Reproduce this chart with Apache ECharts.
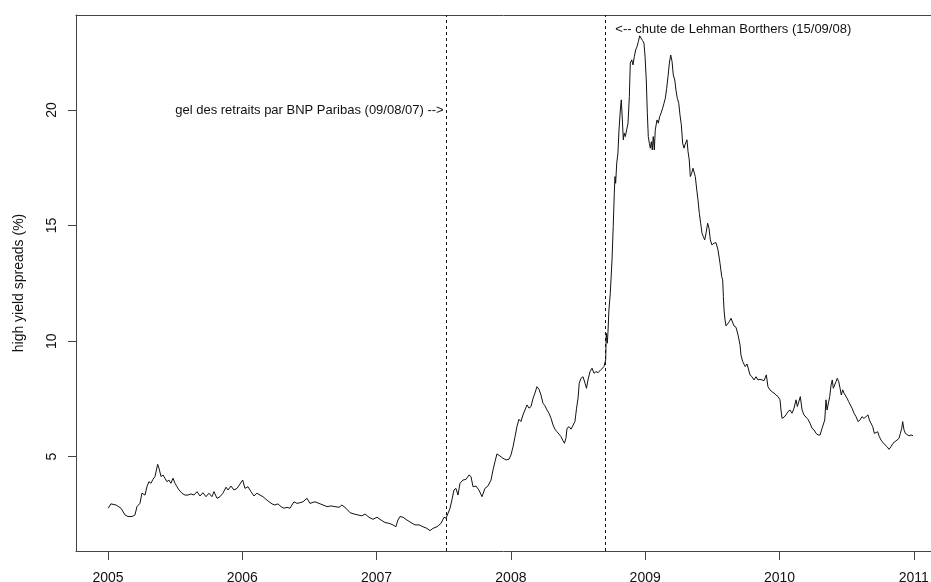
<!DOCTYPE html>
<html>
<head>
<meta charset="utf-8">
<script src="https://cdn.jsdelivr.net/npm/echarts@6/dist/echarts.min.js"></script>
<style>
html,body{margin:0;padding:0;background:#fff;}
#c{width:931px;height:582px;}
</style>
</head>
<body>
<div id="c"></div>
<script>
// decimal years
var years = [
2005.002,2005.022,2005.060,2005.097,2005.127,2005.149,2005.179,2005.201,2005.216,2005.238,
2005.253,2005.276,2005.290,2005.305,2005.320,2005.335,2005.350,2005.370,2005.380,2005.395,
2005.410,2005.424,2005.439,2005.454,2005.469,2005.484,2005.499,2005.514,2005.529,2005.551,
2005.573,2005.596,2005.618,2005.640,2005.663,2005.685,2005.707,2005.730,2005.752,2005.774,
2005.789,2005.812,2005.834,2005.856,2005.879,2005.894,2005.916,2005.938,2005.961,2005.975,
2006.003,2006.020,2006.042,2006.065,2006.087,2006.109,2006.132,2006.154,2006.176,2006.199,
2006.221,2006.243,2006.266,2006.288,2006.310,2006.333,2006.355,2006.385,2006.407,2006.430,
2006.452,2006.482,2006.504,2006.541,2006.571,2006.601,2006.631,2006.660,2006.690,2006.720,
2006.742,2006.772,2006.802,2006.832,2006.862,2006.891,2006.914,2006.943,2006.973,2007.003,
2007.033,2007.063,2007.092,2007.122,2007.144,2007.159,2007.174,2007.197,2007.226,2007.256,
2007.286,2007.316,2007.345,2007.375,2007.398,2007.420,2007.450,2007.480,2007.502,2007.517,
2007.532,2007.547,2007.561,2007.576,2007.591,2007.606,2007.621,2007.643,2007.666,2007.688,
2007.703,2007.718,2007.740,2007.762,2007.785,2007.807,2007.829,2007.852,2007.867,2007.882,
2007.896,2007.919,2007.941,2007.964,2007.986,2008.001,2008.016,2008.031,2008.045,2008.060,
2008.075,2008.090,2008.105,2008.120,2008.135,2008.150,2008.165,2008.179,2008.194,2008.209,
2008.224,2008.239,2008.254,2008.269,2008.284,2008.299,2008.314,2008.328,2008.343,2008.358,
2008.373,2008.388,2008.399,2008.410,2008.418,2008.433,2008.448,2008.462,2008.477,2008.489,
2008.500,2008.509,2008.522,2008.537,2008.552,2008.563,2008.574,2008.589,2008.604,2008.619,
2008.634,2008.649,2008.664,2008.678,2008.693,2008.706,2008.710,2008.718,2008.723,2008.730,
2008.740,2008.753,2008.762,2008.770,2008.775,2008.780,2008.788,2008.797,2008.805,2008.815,
2008.822,2008.830,2008.837,2008.844,2008.852,2008.862,2008.872,2008.882,2008.889,2008.900,
2008.909,2008.919,2008.929,2008.939,2008.949,2008.959,2008.969,2008.981,2008.991,2008.999,
2009.008,2009.016,2009.023,2009.031,2009.038,2009.046,2009.053,2009.060,2009.068,2009.075,
2009.088,2009.098,2009.108,2009.118,2009.130,2009.140,2009.150,2009.160,2009.170,2009.180,
2009.190,2009.200,2009.209,2009.220,2009.229,2009.239,2009.250,2009.259,2009.269,2009.279,
2009.289,2009.296,2009.304,2009.311,2009.319,2009.328,2009.336,2009.346,2009.356,2009.366,
2009.373,2009.384,2009.393,2009.403,2009.413,2009.423,2009.433,2009.443,2009.453,2009.465,
2009.475,2009.485,2009.497,2009.512,2009.527,2009.542,2009.557,2009.570,2009.577,2009.582,
2009.587,2009.594,2009.602,2009.614,2009.626,2009.639,2009.652,2009.661,2009.676,2009.691,
2009.706,2009.713,2009.726,2009.736,2009.745,2009.758,2009.771,2009.780,2009.795,2009.810,
2009.825,2009.840,2009.855,2009.870,2009.885,2009.902,2009.914,2009.929,2009.944,2009.959,
2009.974,2009.989,2010.004,2010.011,2010.019,2010.034,2010.048,2010.063,2010.078,2010.093,
2010.108,2010.123,2010.133,2010.143,2010.155,2010.168,2010.182,2010.197,2010.212,2010.227,
2010.242,2010.257,2010.272,2010.287,2010.302,2010.317,2010.326,2010.337,2010.346,2010.354,
2010.363,2010.374,2010.384,2010.393,2010.401,2010.411,2010.421,2010.430,2010.441,2010.451,
2010.460,2010.471,2010.480,2010.490,2010.503,2010.515,2010.525,2010.540,2010.555,2010.570,
2010.585,2010.600,2010.614,2010.629,2010.644,2010.659,2010.669,2010.681,2010.694,2010.706,
2010.719,2010.731,2010.743,2010.756,2010.771,2010.786,2010.801,2010.815,2010.830,2010.845,
2010.860,2010.875,2010.890,2010.900,2010.910,2010.917,2010.927,2010.937,2010.949,2010.964,
2010.979,2010.994
];
// high yield spreads (%)
var spreads = [
2.77,2.96,2.91,2.77,2.48,2.41,2.41,2.48,2.84,2.98,
3.42,3.34,3.70,3.92,3.85,4.02,4.14,4.67,4.50,4.14,
4.21,4.07,3.92,3.99,3.85,4.07,3.85,3.70,3.56,3.42,
3.34,3.34,3.39,3.34,3.49,3.30,3.44,3.27,3.42,3.27,
3.49,3.20,3.27,3.42,3.68,3.56,3.73,3.56,3.63,3.63,
3.99,3.63,3.70,3.49,3.30,3.42,3.34,3.27,3.16,3.05,
2.96,2.91,2.96,2.84,2.77,2.81,2.77,3.05,2.98,3.01,
3.05,3.20,2.98,3.05,2.98,2.91,2.84,2.87,2.84,2.81,
2.91,2.77,2.58,2.52,2.48,2.44,2.52,2.38,2.29,2.38,
2.26,2.15,2.12,2.05,1.97,2.26,2.41,2.38,2.26,2.15,
2.05,2.05,1.97,1.90,1.80,1.90,1.97,2.12,2.38,2.34,
2.55,2.77,3.13,3.56,3.63,3.34,3.85,3.99,4.02,4.21,
4.14,3.70,3.73,3.56,3.27,3.63,3.73,3.99,4.43,4.79,
5.12,5.03,4.93,4.86,4.89,5.08,5.43,5.87,6.30,6.62,
6.52,6.81,7.02,7.24,7.10,7.17,7.53,7.75,8.03,7.92,
7.67,7.31,7.20,7.02,6.88,6.66,6.37,6.19,6.08,5.98,
5.87,5.69,5.58,5.80,6.23,6.30,6.19,6.16,6.52,7.10,
7.53,8.18,8.39,8.46,8.18,7.96,8.32,8.68,8.83,8.61,
8.68,8.64,8.72,8.78,8.90,9.19,10.34,9.91,10.41,11.35,
12.07,13.51,14.96,16.40,17.12,16.83,17.70,18.13,19.14,20.00,
20.44,19.57,18.71,19.00,18.85,19.14,19.43,20.58,22.03,22.17,
21.95,22.31,22.60,22.74,22.96,23.21,23.11,23.00,22.89,22.31,
21.30,19.86,18.85,18.56,18.35,18.63,18.27,18.85,18.27,19.14,
19.57,19.43,19.72,19.86,20.08,20.29,20.51,20.94,21.45,22.03,
22.38,22.10,21.52,21.30,20.87,20.51,20.29,19.79,19.36,18.56,
18.35,18.49,18.42,18.71,18.20,17.84,17.12,17.26,17.48,17.55,
17.12,16.54,16.11,15.53,15.10,14.67,14.52,14.38,14.67,15.10,
14.89,14.38,14.16,14.24,14.26,13.95,13.37,12.79,12.65,11.93,
11.35,10.92,10.66,10.70,10.84,10.99,10.92,10.66,10.60,10.27,
9.84,9.40,9.11,9.16,8.90,9.01,8.75,8.54,8.46,8.32,
8.46,8.32,8.35,8.32,8.29,8.54,8.03,7.89,7.81,7.75,
7.67,7.60,7.46,7.02,6.66,6.71,6.81,6.95,7.02,6.88,
7.10,7.46,7.17,7.24,7.60,7.02,6.81,6.71,6.62,6.45,
6.23,6.16,6.01,5.94,5.94,6.23,6.16,6.59,7.46,7.02,
7.10,7.60,8.10,8.32,7.96,8.03,8.25,8.39,8.25,7.96,
7.67,7.89,7.75,7.81,7.53,7.38,7.31,7.10,6.88,6.73,
6.52,6.59,6.73,6.66,6.73,6.81,6.59,6.52,6.30,6.01,
5.94,6.08,5.87,5.72,5.61,5.51,5.43,5.32,5.43,5.58,
5.65,5.72,5.80,6.01,6.23,6.52,6.16,6.01,5.94,5.90,
5.94,5.91
];
var xTicks = [2005, 2006, 2007, 2008, 2009, 2010, 2011];
var yTicks = [5, 10, 15, 20];
var eventDates = [2007.522, 2008.703];
var eventLabels = [
  'gel des retraits par BNP Paribas (09/08/07) -->',
  '<-- chute de Lehman Borthers (15/09/08)'
];
var eventLabelY = [20, 23.5];

var data = years.map(function (y, i) { return [y, spreads[i]]; });
var FONT = '"Liberation Sans", Arial, Helvetica, sans-serif';
var XMIN = 2004.762, XMAX = 2011.128;
var AXC = '#444';

var chart = echarts.init(document.getElementById('c'), null, {renderer: 'canvas'});
chart.setOption({
  animation: false,
  backgroundColor: '#fff',
  textStyle: {fontFamily: FONT},
  grid: {
    left: 76, top: 15, right: 0, bottom: 31,
    show: false,
    containLabel: false,
    outerBoundsMode: 'none'
  },
  xAxis: [{
    type: 'value', min: XMIN, max: XMAX, position: 'bottom',
    axisLine: {show: true, onZero: false, lineStyle: {color: AXC, width: 1}},
    splitLine: {show: false},
    axisTick: {show: true, customValues: xTicks, length: 9, inside: false,
      lineStyle: {color: AXC, width: 1}},
    axisLabel: {show: true, customValues: xTicks, margin: 20,
      fontSize: 14, color: '#111', fontFamily: FONT,
      formatter: function (v) { return String(Math.round(v)); }}
  }, {
    type: 'value', min: XMIN, max: XMAX, position: 'top',
    axisLine: {show: true, onZero: false, lineStyle: {color: AXC, width: 1}},
    splitLine: {show: false},
    axisTick: {show: false},
    axisLabel: {show: false}
  }],
  yAxis: {
    type: 'value', min: 0.92, max: 24.11,
    name: 'high yield spreads (%)', nameLocation: 'middle', nameGap: 50,
    nameRotate: 90,
    nameTextStyle: {fontSize: 14, color: '#111', fontFamily: FONT},
    axisLine: {show: true, onZero: false, lineStyle: {color: AXC, width: 1}},
    splitLine: {show: false},
    axisTick: {show: true, customValues: yTicks, length: 8, inside: false,
      lineStyle: {color: AXC, width: 1}},
    axisLabel: {show: true, customValues: yTicks, rotate: 90, margin: 17,
      fontSize: 14, color: '#111', fontFamily: FONT}
  },
  series: [{
    type: 'line',
    xAxisIndex: 0,
    data: data,
    showSymbol: false,
    symbol: 'none',
    lineStyle: {color: '#111', width: 1},
    silent: true,
    markLine: {
      silent: true,
      symbol: ['none', 'none'],
      label: {show: false},
      lineStyle: {color: '#111', width: 1, type: [3, 3]},
      data: eventDates.map(function (d) { return {xAxis: d}; })
    },
    markPoint: {
      silent: true,
      symbol: 'circle',
      symbolSize: 0,
      data: [
        {coord: [eventDates[0], eventLabelY[0]],
         label: {show: true, position: 'left', distance: 3, formatter: eventLabels[0],
                 fontSize: 13, color: '#111', fontFamily: FONT}},
        {coord: [eventDates[1], eventLabelY[1]],
         label: {show: true, position: 'right', distance: 10, formatter: eventLabels[1],
                 fontSize: 13, color: '#111', fontFamily: FONT}}
      ]
    }
  }]
});
</script>
</body>
</html>
